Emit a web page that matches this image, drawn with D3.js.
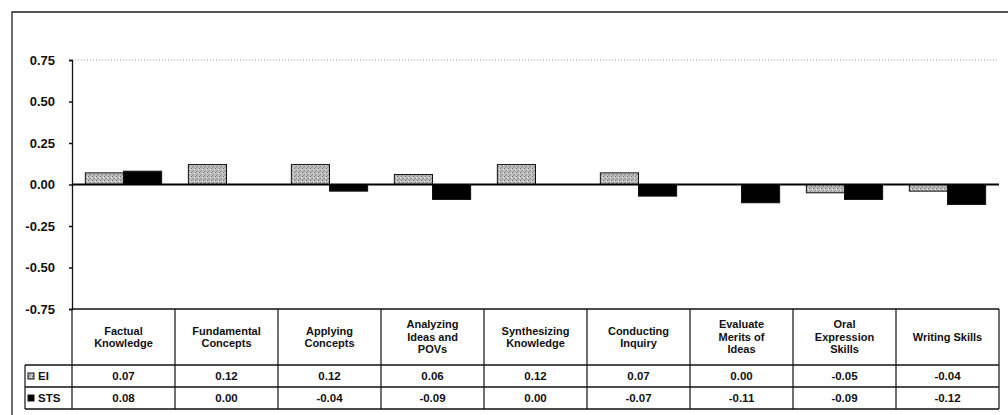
<!DOCTYPE html>
<html>
<head>
<meta charset="utf-8">
<script src="https://cdn.jsdelivr.net/npm/d3@7"></script>
<style>
  body { margin: 0; background: #fff; }
  text { font-family: "Liberation Sans", Arial, sans-serif; font-weight: bold; fill: #111; }
</style>
</head>
<body>
<div id="chart"></div>
<script>
// categories (header row of the data table)
const categories = [
    ["Factual", "Knowledge"],
    ["Fundamental", "Concepts"],
    ["Applying", "Concepts"],
    ["Analyzing", "Ideas and", "POVs"],
    ["Synthesizing", "Knowledge"],
    ["Conducting", "Inquiry"],
    ["Evaluate", "Merits of", "Ideas"],
    ["Oral", "Expression", "Skills"],
    ["Writing Skills"]
];
const seriesNames = ["EI", "STS"];
const eiValues = [0.07, 0.12, 0.12, 0.06, 0.12, 0.07, 0.00, -0.05, -0.04];
const stsValues = [0.08, 0.00, -0.04, -0.09, 0.00, -0.07, -0.11, -0.09, -0.12];
const yTicks = [0.75, 0.50, 0.25, 0.00, -0.25, -0.50, -0.75];

const width = 1008, height = 415;
const plot = { left: 72, right: 999, top: 60, bottom: 309 };
const headerBottom = 365, rowH = 22;

const svg = d3.select("#chart").append("svg")
    .attr("width", width)
    .attr("height", height);

// stipple pattern for the light series
const defs = svg.append("defs");
const pat = defs.append("pattern")
    .attr("id", "stipple")
    .attr("width", 4).attr("height", 4)
    .attr("patternUnits", "userSpaceOnUse");
pat.append("rect").attr("width", 4).attr("height", 4).attr("fill", "#bdbdbd");
pat.append("rect").attr("x", 0).attr("y", 0).attr("width", 1).attr("height", 1).attr("fill", "#6f6f6f");
pat.append("rect").attr("x", 2).attr("y", 2).attr("width", 1).attr("height", 1).attr("fill", "#808080");
pat.append("rect").attr("x", 3).attr("y", 1).attr("width", 1).attr("height", 1).attr("fill", "#eee");
pat.append("rect").attr("x", 1).attr("y", 3).attr("width", 1).attr("height", 1).attr("fill", "#919191");

const fills = ["url(#stipple)", "#000"];

// outer frame (left and top; right edge is cut off in the scan)
svg.append("path")
    .attr("d", `M12,${height}V12H${width}`)
    .attr("fill", "none")
    .attr("stroke", "#222")
    .attr("stroke-width", 1.3);

// Scales
const xScale = d3.scaleBand()
    .domain(d3.range(categories.length))
    .range([plot.left, plot.right]);

const xInner = d3.scaleBand()
    .domain(seriesNames)
    .range([0, xScale.bandwidth()])
    .paddingInner(0)
    .paddingOuter(0.35);

const yScale = d3.scaleLinear()
    .domain([-0.75, 0.75])
    .range([plot.bottom, plot.top]);

// dotted top gridline
svg.append("line")
    .attr("x1", plot.left).attr("x2", plot.right)
    .attr("y1", yScale(0.75)).attr("y2", yScale(0.75))
    .attr("stroke", "#999")
    .attr("stroke-dasharray", "1,2");

// Y axis
const yAxisCall = d3.axisLeft(yScale)
    .tickValues(yTicks)
    .tickFormat(d3.format(".2f"))
    .tickSize(3)
    .tickPadding(14);

const yAxis = svg.append("g")
    .attr("class", "y axis")
    .attr("transform", "translate(" + plot.left + ",0)")
    .call(yAxisCall);
yAxis.select(".domain").attr("stroke", "#111").attr("stroke-width", 1.3);
yAxis.selectAll(".tick line").attr("stroke", "#111").attr("stroke-width", 1.5);
yAxis.selectAll(".tick text")
    .attr("font-size", 13)
    .attr("font-family", "Liberation Sans, Arial, sans-serif")
    .attr("font-weight", "bold")
    .attr("fill", "#111")
    .text(d => d3.format(".2f")(d).replace("−", "-"));

// bars
const data = categories.map((c, i) => ({ i, values: [eiValues[i], stsValues[i]] }));

const groups = svg.append("g").selectAll("g")
    .data(data)
    .join("g")
    .attr("transform", d => "translate(" + xScale(d.i) + ",0)");

groups.selectAll("rect")
    .data(d => d.values.map((v, k) => ({ key: seriesNames[k], v, k })))
    .join("rect")
    .attr("x", d => xInner(d.key))
    .attr("width", xInner.bandwidth())
    .attr("y", d => yScale(Math.max(0, d.v)))
    .attr("height", d => Math.abs(yScale(d.v) - yScale(0)))
    .attr("fill", d => fills[d.k])
    .attr("stroke", "#111")
    .attr("stroke-width", 1);

// zero line
svg.append("line")
    .attr("x1", plot.left).attr("x2", plot.right)
    .attr("y1", yScale(0)).attr("y2", yScale(0))
    .attr("stroke", "#000")
    .attr("stroke-width", 2.2);

// data table
const table = svg.append("g").attr("class", "table");
const legendLeft = 25;
const tableBottom = headerBottom + rowH * 2;

// horizontal lines
table.append("line")
    .attr("x1", plot.left).attr("x2", plot.right)
    .attr("y1", plot.bottom).attr("y2", plot.bottom)
    .attr("stroke", "#111").attr("stroke-width", 1.5);
[headerBottom, headerBottom + rowH, tableBottom].forEach(y => {
    table.append("line")
        .attr("x1", legendLeft).attr("x2", plot.right)
        .attr("y1", y).attr("y2", y)
        .attr("stroke", "#111").attr("stroke-width", 1.5);
});

// vertical lines
d3.range(categories.length + 1).forEach(j => {
    const x = j < categories.length ? xScale(j) : plot.right;
    table.append("line")
        .attr("x1", x).attr("x2", x)
        .attr("y1", plot.bottom).attr("y2", tableBottom)
        .attr("stroke", "#111").attr("stroke-width", 1.2);
});
table.append("line")
    .attr("x1", legendLeft).attr("x2", legendLeft)
    .attr("y1", headerBottom).attr("y2", tableBottom)
    .attr("stroke", "#111").attr("stroke-width", 1.2);

// header labels
categories.forEach((lines, j) => {
    const cx = xScale(j) + xScale.bandwidth() / 2;
    const lh = 12.5;
    const midY = (plot.bottom + headerBottom) / 2;
    const y0 = midY - (lines.length - 1) * lh / 2;
    const t = table.append("text")
        .attr("text-anchor", "middle")
        .attr("font-size", 11);
    lines.forEach((ln, k) => {
        t.append("tspan")
            .attr("x", cx)
            .attr("y", y0 + k * lh)
            .attr("dy", "0.35em")
            .text(ln);
    });
});

// value rows
[eiValues, stsValues].forEach((vals, r) => {
    const cy = headerBottom + rowH * r + rowH / 2;
    // legend cell
    table.append("rect")
        .attr("x", legendLeft + 3).attr("y", cy - 3)
        .attr("width", 6).attr("height", 6)
        .attr("fill", fills[r])
        .attr("stroke", "#111").attr("stroke-width", 1);
    table.append("text")
        .attr("x", legendLeft + 13).attr("y", cy)
        .attr("dy", "0.35em")
        .attr("font-size", 11.5)
        .text(seriesNames[r]);
    vals.forEach((v, j) => {
        table.append("text")
            .attr("x", xScale(j) + xScale.bandwidth() / 2)
            .attr("y", cy)
            .attr("dy", "0.35em")
            .attr("text-anchor", "middle")
            .attr("font-size", 11.5)
            .text(d3.format(".2f")(v).replace("−", "-"));
    });
});
</script>
</body>
</html>
